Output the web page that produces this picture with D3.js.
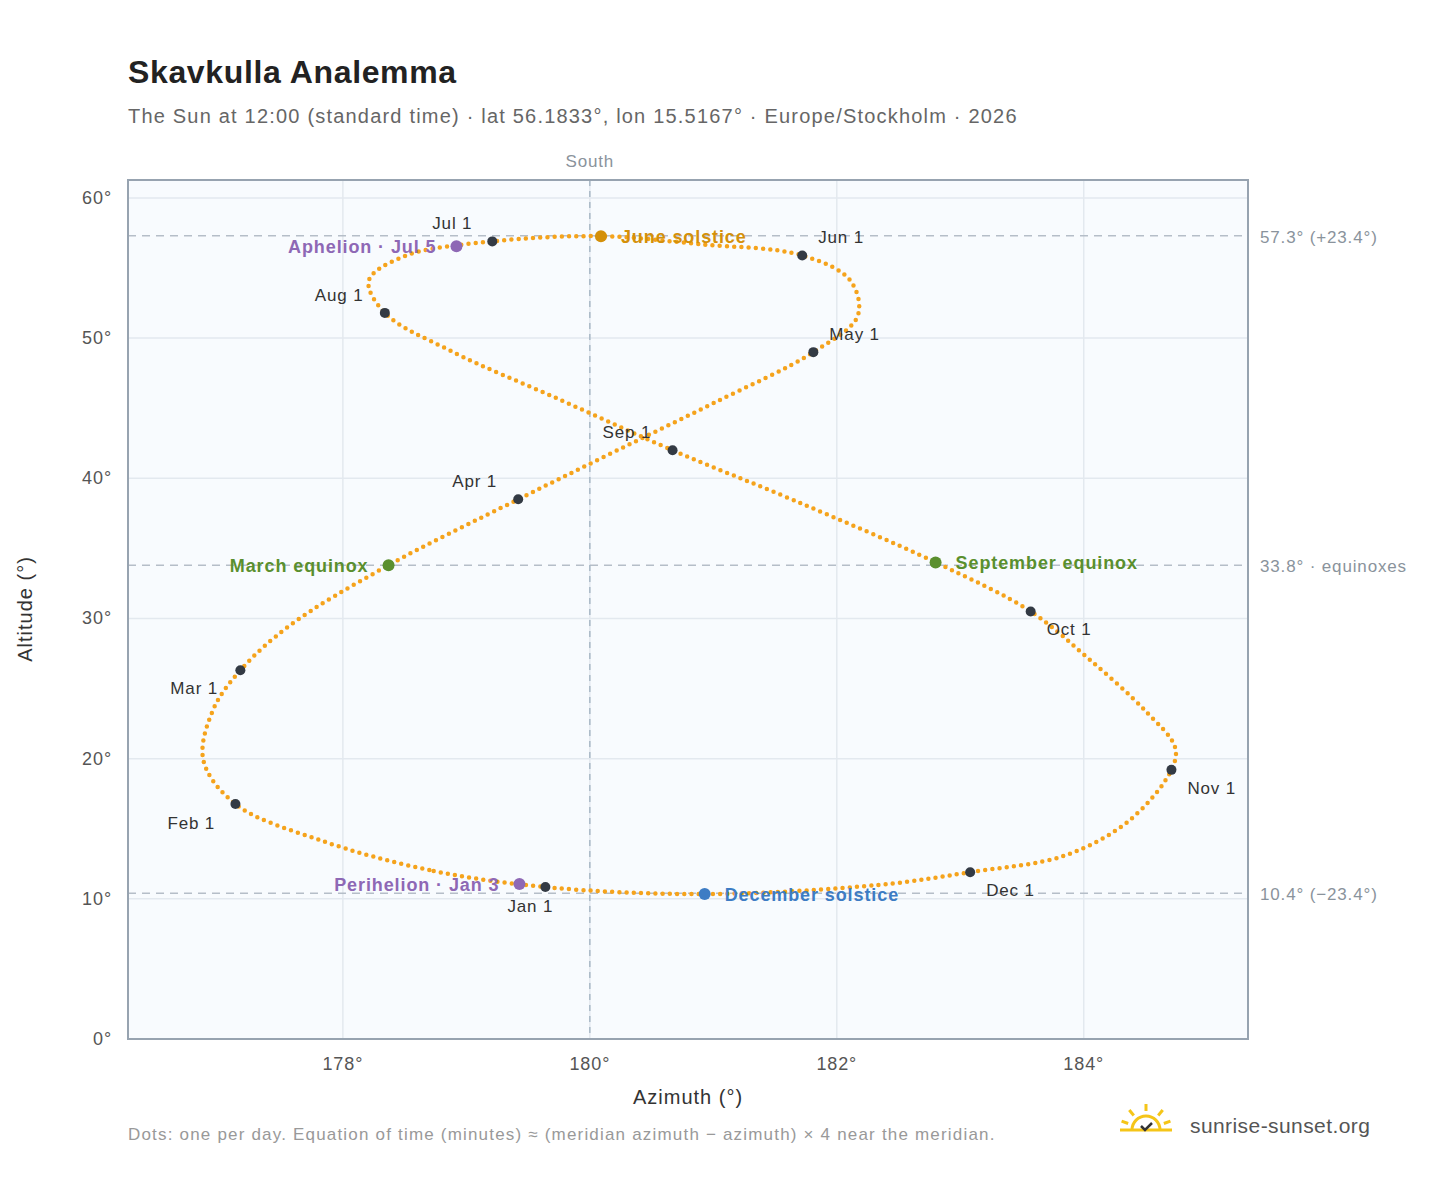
<!DOCTYPE html>
<html><head><meta charset="utf-8">
<script src="https://cdn.jsdelivr.net/npm/d3@7"></script>
<style>body{margin:0;background:#fff;font-family:"Liberation Sans",Arial,sans-serif} text{letter-spacing:0.05em}</style>
</head><body><svg id="c" width="1448" height="1188"></svg>
<script>
// Sun position read about every 10 days (azimuth°, altitude°)
const pathAz  = [179.64,178.70,177.81,177.13,176.87,176.95,177.17,177.57,178.37,179.42,180.20,181.01,181.81,182.17,182.11,181.72,180.89,180.09,179.21,178.50,178.21,178.34,178.87,179.76,180.67,181.66,182.80,183.57,184.03,184.50,184.74,184.71,184.37,183.85,183.08,182.35,180.93];
const pathAlt = [10.84,12.05,14.2,16.76,19.9,23.5,26.3,29.5,33.8,38.5,41.9,45.4,49.0,51.6,54.1,55.9,56.7,57.27,56.9,55.85,54.1,51.8,49.1,45.6,42.0,38.4,34.0,30.5,27.2,23.4,20.8,19.2,15.6,13.1,11.9,11.0,10.34];
const monthLabels = ["Jan 1","Feb 1","Mar 1","Apr 1","May 1","Jun 1","Jul 1","Aug 1","Sep 1","Oct 1","Nov 1","Dec 1"];
const monthAz  = [179.64,177.13,177.17,179.42,181.81,181.72,179.21,178.34,180.67,183.57,184.71,183.08];
const monthAlt = [10.84,16.76,26.3,38.5,49.0,55.9,56.9,51.8,42.0,30.5,19.2,11.9];
const monthDx = [-38,-68,-70,-66,16,16,-60,-70,-70,16,16,16];
const monthDy = [25,25,24,-12,-12,-12,-12,-12,-12,24,24,24];
const events = ["June solstice","Aphelion · Jul 5","March equinox","September equinox","Perihelion · Jan 3","December solstice"];
const eventAz  = [180.09,178.92,178.37,182.80,179.43,180.93];
const eventAlt = [57.27,56.56,33.8,34.0,11.06,10.34];
const eventColor = ["#d4900a","#8e68b5","#5a8f2e","#5a8f2e","#8e68b5","#3d7cc4"];
const eventSide = ["r","l","l","r","l","r"];
const xTicks = [178,180,182,184];
const yTicks = [0,10,20,30,40,50,60];
const refAlt = [57.3,33.8,10.4];
const refLabels = ["57.3° (+23.4°)","33.8° · equinoxes","10.4° (−23.4°)"];

const svg = d3.select("#c");
const L=128,R=1248,T=180,B=1039;
const x = d3.scaleLinear().domain([176.26,185.33]).range([L,R]);
const y = d3.scaleLinear().domain([0,61.28]).range([B,T]);

svg.append("text").attr("x",128).attr("y",83).attr("font-size",32).attr("font-weight","bold").attr("fill","#222").style("letter-spacing","0.02em").text("Skavkulla Analemma");
svg.append("text").attr("x",128).attr("y",123).attr("font-size",20).attr("fill","#666").style("letter-spacing","0.06em").text("The Sun at 12:00 (standard time) · lat 56.1833°, lon 15.5167° · Europe/Stockholm · 2026");

svg.append("rect").attr("x",L).attr("y",T).attr("width",R-L).attr("height",B-T).attr("fill","#f8fbfe");
const g = svg.append("g");
yTicks.forEach(t=>g.append("line").attr("x1",L).attr("x2",R).attr("y1",y(t)).attr("y2",y(t)).attr("stroke","#e3e9ef").attr("stroke-width",1.5));
xTicks.forEach(t=>g.append("line").attr("y1",T).attr("y2",B).attr("x1",x(t)).attr("x2",x(t)).attr("stroke","#e3e9ef").attr("stroke-width",1.5));
refAlt.forEach((a,i)=>{
  g.append("line").attr("x1",L).attr("x2",R).attr("y1",y(a)).attr("y2",y(a)).attr("stroke","#b5bec8").attr("stroke-width",1.5).attr("stroke-dasharray","8,6");
  svg.append("text").attr("x",1260).attr("y",y(a)+7).attr("font-size",17).attr("fill","#8a939c").text(refLabels[i]);
});
g.append("line").attr("x1",x(180)).attr("x2",x(180)).attr("y1",T).attr("y2",B).attr("stroke","#a9b8c6").attr("stroke-width",1.5).attr("stroke-dasharray","6,5");
svg.append("text").attr("x",x(180)).attr("y",167).attr("text-anchor","middle").attr("font-size",17).attr("fill","#8a939c").text("South");

xTicks.forEach(t=>svg.append("text").attr("x",x(t)).attr("y",1070).attr("text-anchor","middle").attr("font-size",18).attr("fill","#555").text(t+"°"));
yTicks.forEach(t=>svg.append("text").attr("x",112).attr("y",y(t)+6).attr("text-anchor","end").attr("font-size",18).attr("fill","#555").text(t+"°"));
svg.append("text").attr("x",688).attr("y",1104).attr("text-anchor","middle").attr("font-size",20).attr("fill","#333").text("Azimuth (°)");
svg.append("text").attr("transform","translate(32,609) rotate(-90)").attr("text-anchor","middle").attr("font-size",20).attr("fill","#333").text("Altitude (°)");

const pts = pathAz.map((a,i)=>[x(a),y(pathAlt[i])]);
g.append("path").attr("d",d3.line().curve(d3.curveCatmullRomClosed)(pts)).attr("fill","none")
 .attr("stroke","#f5a31c").attr("stroke-width",4.5).attr("stroke-linecap","round").attr("stroke-dasharray","0 7.2");

monthAz.forEach((a,i)=>{
  g.append("circle").attr("cx",x(a)).attr("cy",y(monthAlt[i])).attr("r",5).attr("fill","#333a44");
  svg.append("text").attr("x",x(a)+monthDx[i]).attr("y",y(monthAlt[i])+monthDy[i]).attr("font-size",17).attr("fill","#333").text(monthLabels[i]);
});
events.forEach((e,i)=>{
  const cx=x(eventAz[i]),cy=y(eventAlt[i]);
  g.append("circle").attr("cx",cx).attr("cy",cy).attr("r",6).attr("fill",eventColor[i]);
  svg.append("text").attr("x",eventSide[i]=="r"?cx+20:cx-20).attr("y",cy+7).attr("text-anchor",eventSide[i]=="r"?"start":"end")
   .attr("font-size",18).attr("font-weight","bold").attr("fill",eventColor[i]).text(e);
});
svg.append("rect").attr("x",L).attr("y",T).attr("width",R-L).attr("height",B-T).attr("fill","none").attr("stroke","#97a3b0").attr("stroke-width",2);

svg.append("text").attr("x",128).attr("y",1140).attr("font-size",17).attr("fill","#999").style("letter-spacing","0.07em").text("Dots: one per day. Equation of time (minutes) ≈ (meridian azimuth − azimuth) × 4 near the meridian.");
const lg = svg.append("g").attr("transform","translate(1146,1130)");
lg.append("path").attr("d","M-14,0 A14,14 0 0 1 14,0").attr("fill","none").attr("stroke","#f5c518").attr("stroke-width",3);
[-160,-130,-90,-50,-20].forEach(a=>{const r=a*Math.PI/180;lg.append("line").attr("x1",19*Math.cos(r)).attr("y1",19*Math.sin(r)).attr("x2",26*Math.cos(r)).attr("y2",26*Math.sin(r)).attr("stroke","#f5c518").attr("stroke-width",3);});
lg.append("line").attr("x1",-26).attr("x2",26).attr("y1",0).attr("y2",0).attr("stroke","#f5c518").attr("stroke-width",3);
lg.append("path").attr("d","M-5,-4 L-1,0 L6,-7").attr("fill","none").attr("stroke","#333").attr("stroke-width",2.5);
svg.append("text").attr("x",1190).attr("y",1133).attr("font-size",21).attr("fill","#555").style("letter-spacing","0.02em").text("sunrise-sunset.org");
</script></body></html>
